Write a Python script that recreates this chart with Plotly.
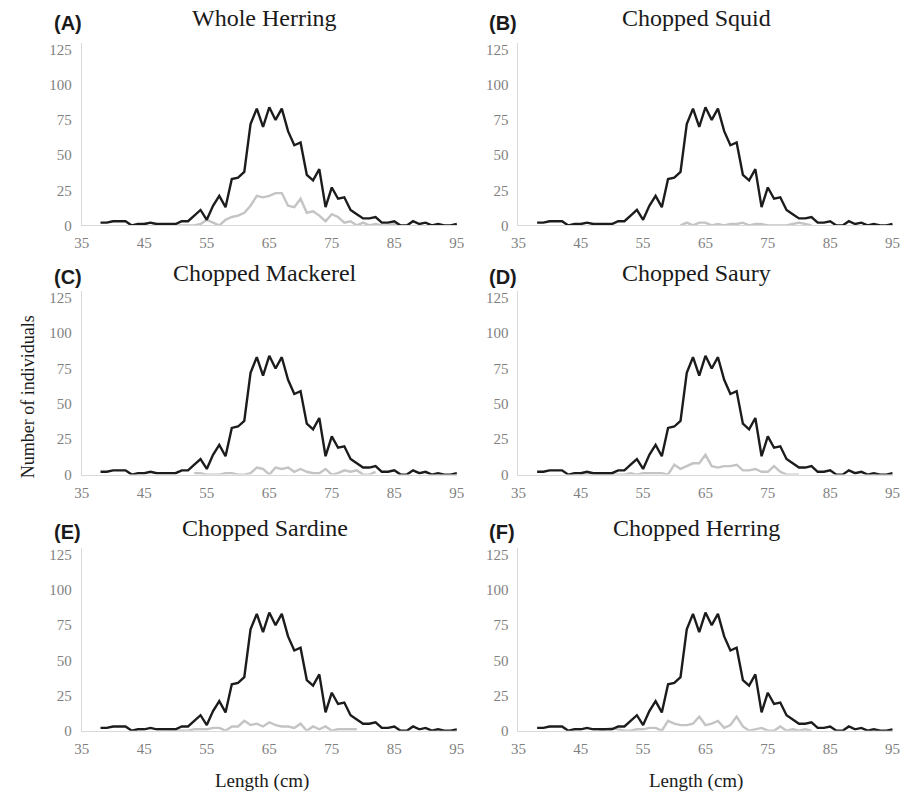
import plotly.graph_objects as go

W, H = 908, 801

# ---------------- data ----------------
lengths = list(range(38, 96))  # 38..95 cm

total_counts = [2, 2, 3, 3, 3, 0, 1, 1, 2, 1, 1, 1, 1,
                3, 3, 7, 11, 4, 14, 21, 13, 33, 34,
                38, 72, 83, 70, 84, 75, 83, 67, 57, 59,
                36, 32, 40, 13, 27, 19, 20, 11, 8, 5,
                5, 6, 2, 2, 3, 0, 0, 3, 1, 2,
                0, 1, 0, 0, 1]

whole_herring_len = list(range(43, 87))
whole_herring = [0, 0, 1, 2, 0, 0, 0, 0, 0, 0, 0, 1, 4, 2, 0, 4, 6, 7, 9, 14,
                 21, 20, 21, 23, 23, 14, 13, 19, 9, 10, 7, 3, 8, 6, 2, 3,
                 0, 2, 0, 1, 0, 0, 1, 0]

squid_len = list(range(61, 83))
squid = [0, 2, 0, 2, 2, 0, 1, 0, 1, 1, 2, 0, 1, 1, 0, 0, 0, 0, 1, 2, 1, 0]

mackerel_len = list(range(53, 83))
mackerel = [1, 1, 0, 0, 0, 1, 1, 0, 0, 1, 5, 4, 0, 5, 4, 5, 2, 4, 2, 1,
            1, 4, 0, 1, 3, 2, 3, 0, 0, 2]

saury_len = list(range(45, 81))
saury = [0, 0, 1, 0, 0, 0, 0, 0, 1, 0, 1, 1, 1, 1, 0, 7, 4, 6, 8, 8,
         14, 6, 5, 6, 6, 7, 3, 3, 4, 2, 2, 6, 2, 0, 0, 0]

sardine_len = list(range(50, 80))
sardine = [0, 0, 0, 1, 1, 1, 2, 2, 0, 3, 3, 7, 4, 5, 3, 6, 4, 3, 3, 2,
           5, 0, 3, 1, 3, 0, 1, 1, 1, 1]

chopped_herring_len = list(range(48, 83))
chopped_herring = [0, 1, 2, 1, 0, 0, 1, 1, 2, 2, 0, 7, 5, 4, 4, 5, 10, 4, 5, 7,
                   2, 4, 10, 3, 0, 1, 2, 0, 0, 3, 0, 1, 0, 1, 0]

panel_letters = ["(A)", "(B)", "(C)", "(D)", "(E)", "(F)"]
panel_titles = ["Whole Herring", "Chopped Squid", "Chopped Mackerel",
                "Chopped Saury", "Chopped Sardine", "Chopped Herring"]
bait_series = [(whole_herring_len, whole_herring), (squid_len, squid),
               (mackerel_len, mackerel), (saury_len, saury),
               (sardine_len, sardine), (chopped_herring_len, chopped_herring)]

x_ticks = [35, 45, 55, 65, 75, 85, 95]
y_ticks = [0, 25, 50, 75, 100, 125]

# ---------------- layout geometry (screen pixels) ----------------
col_x = [(75, 457), (519, 900)]
row_y = [(42, 227), (293, 479), (553, 738)]
letter_y = [22, 279, 537]
title_y = [17, 275, 533]


def px_x(p):
    return p / W


def px_y(p):
    return 1 - p / H


fig = go.Figure()

serif = "Liberation Serif, Times New Roman, serif"
sans = "Liberation Sans, Arial, sans-serif"
tick_col = "#7f7f7f"
axis_col = "#d9d9d9"

layout = dict(
    width=W, height=H,
    margin=dict(l=0, r=0, t=0, b=0),
    paper_bgcolor="white", plot_bgcolor="white",
    showlegend=False,
)

annotations = []
for i in range(6):
    r, c = divmod(i, 2)
    x0, x1 = col_x[c]
    ytop, ybot = row_y[r]
    n = i + 1
    xa = f"xaxis{n}" if n > 1 else "xaxis"
    ya = f"yaxis{n}" if n > 1 else "yaxis"
    xref = f"x{n}" if n > 1 else "x"
    yref = f"y{n}" if n > 1 else "y"
    layout[xa] = dict(
        domain=[px_x(x0), px_x(x1)], anchor=yref, range=[35, 95.1],
        tickvals=x_ticks, ticks="", showgrid=False, zeroline=False,
        showline=True, linecolor=axis_col, linewidth=1,
        tickfont=dict(family=serif, size=15, color=tick_col),
        ticklabelstandoff=4,
    )
    layout[ya] = dict(
        domain=[px_y(ybot), px_y(ytop)], anchor=xref, range=[0, 130],
        tickvals=y_ticks, ticks="", showgrid=False, zeroline=False,
        showline=True, linecolor=axis_col, linewidth=1,
        tickfont=dict(family=serif, size=15, color=tick_col),
        ticklabelstandoff=6,
    )
    bx, by = bait_series[i]
    fig.add_trace(go.Scatter(x=bx, y=by, mode="lines", xaxis=xref, yaxis=yref,
                             line=dict(color="#c4c4c4", width=2.4),
                             hoverinfo="skip"))
    fig.add_trace(go.Scatter(x=lengths, y=total_counts, mode="lines",
                             xaxis=xref, yaxis=yref,
                             line=dict(color="#1c1c1c", width=2.4),
                             hoverinfo="skip"))
    letter_x = 45 if c == 0 else 487
    annotations.append(dict(
        text=f"<b>{panel_letters[i]}</b>", xref="paper", yref="paper",
        x=px_x(letter_x), y=px_y(letter_y[r]), xanchor="left", yanchor="middle",
        showarrow=False, font=dict(family=sans, size=20, color="#1a1a1a")))
    title_cx = 261 if c == 0 else 700
    annotations.append(dict(
        text=panel_titles[i], xref="paper", yref="paper",
        x=px_x(title_cx), y=px_y(title_y[r]), xanchor="center", yanchor="middle",
        showarrow=False, font=dict(family=serif, size=24, color="#1a1a1a")))

for cx in (258, 700):
    annotations.append(dict(
        text="Length (cm)", xref="paper", yref="paper",
        x=px_x(cx), y=px_y(789), xanchor="center", yanchor="middle",
        showarrow=False, font=dict(family=serif, size=19, color="#1a1a1a")))

annotations.append(dict(
    text="Number of individuals", xref="paper", yref="paper",
    x=px_x(20), y=px_y(400), xanchor="center", yanchor="middle", textangle=-90,
    showarrow=False, font=dict(family=serif, size=18, color="#1a1a1a")))

layout["annotations"] = annotations
fig.update_layout(**layout)

fig.write_html(
    "out.html",
    config={"displayModeBar": False},
    post_script="document.body.style.margin='0px';document.body.style.overflow='hidden';",
)
